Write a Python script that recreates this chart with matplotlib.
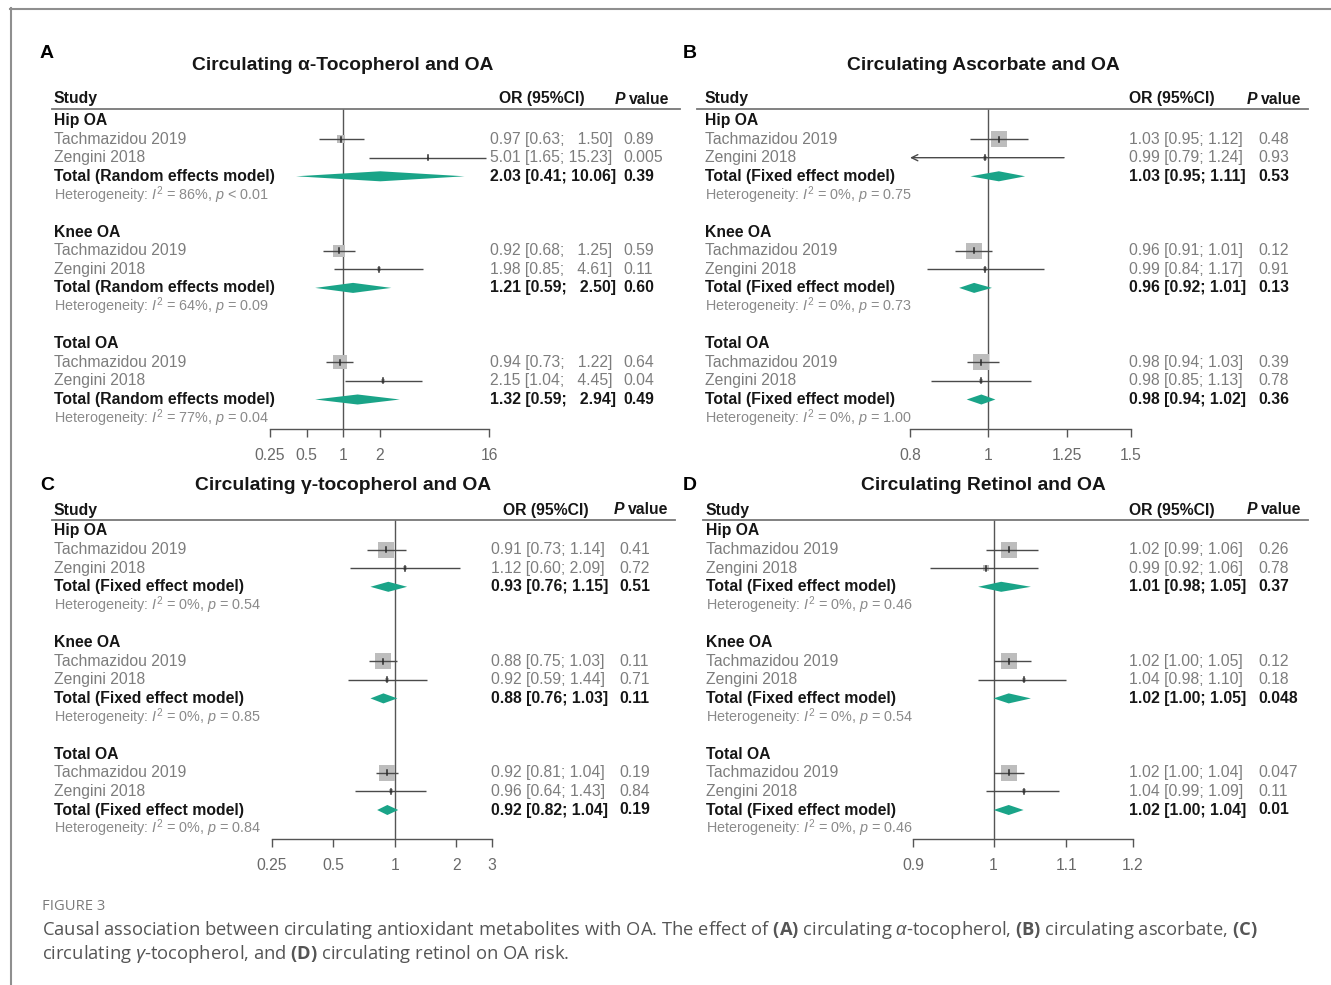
import numpy as np
import matplotlib
matplotlib.use("Agg")
import matplotlib.pyplot as plt
from matplotlib.lines import Line2D
from matplotlib.ticker import FixedLocator, FixedFormatter, NullLocator

plt.rcParams['font.family'] = ['Liberation Sans', 'DejaVu Sans']
plt.rcParams['mathtext.fontset'] = 'custom'
plt.rcParams['mathtext.rm'] = 'Liberation Sans'
plt.rcParams['mathtext.it'] = 'Liberation Sans:italic'
plt.rcParams['mathtext.bf'] = 'Open Sans:bold'

# ---------------- data ----------------
studies = ["Tachmazidou 2019", "Zengini 2018"]
groups = ["Hip OA", "Knee OA", "Total OA"]
# order inside each panel: hip T, hip Z, knee T, knee Z, total T, total Z

# A: circulating alpha-tocopherol
a_or = [0.97, 5.01, 0.92, 1.98, 0.94, 2.15]
a_lo = [0.63, 1.65, 0.68, 0.85, 0.73, 1.04]
a_hi = [1.50, 15.23, 1.25, 4.61, 1.22, 4.45]
a_p = ["0.89", "0.005", "0.59", "0.11", "0.64", "0.04"]
a_w = [25, 3, 56, 6, 77, 9]
a_tot_or = [2.03, 1.21, 1.32]
a_tot_lo = [0.41, 0.59, 0.59]
a_tot_hi = [10.06, 2.50, 2.94]
a_tot_p = ["0.39", "0.60", "0.49"]
a_i2 = [86, 64, 77]
a_het_p = ["< 0.01", "= 0.09", "= 0.04"]

# B: circulating ascorbate
b_or = [1.03, 0.99, 0.96, 0.99, 0.98, 0.98]
b_lo = [0.95, 0.79, 0.91, 0.84, 0.94, 0.85]
b_hi = [1.12, 1.24, 1.01, 1.17, 1.03, 1.13]
b_p = ["0.48", "0.93", "0.12", "0.91", "0.39", "0.78"]
b_w = [88, 7, 90, 6, 90, 6]
b_tot_or = [1.03, 0.96, 0.98]
b_tot_lo = [0.95, 0.92, 0.94]
b_tot_hi = [1.11, 1.01, 1.02]
b_tot_p = ["0.53", "0.13", "0.36"]
b_i2 = [0, 0, 0]
b_het_p = ["= 0.75", "= 0.73", "= 1.00"]

# C: circulating gamma-tocopherol
c_or = [0.91, 1.12, 0.88, 0.92, 0.92, 0.96]
c_lo = [0.73, 0.60, 0.75, 0.59, 0.81, 0.64]
c_hi = [1.14, 2.09, 1.03, 1.44, 1.04, 1.43]
c_p = ["0.41", "0.72", "0.11", "0.71", "0.19", "0.84"]
c_w = [90, 8, 88, 7, 88, 7]
c_tot_or = [0.93, 0.88, 0.92]
c_tot_lo = [0.76, 0.76, 0.82]
c_tot_hi = [1.15, 1.03, 1.04]
c_tot_p = ["0.51", "0.11", "0.19"]
c_i2 = [0, 0, 0]
c_het_p = ["= 0.54", "= 0.85", "= 0.84"]

# D: circulating retinol
d_or = [1.02, 0.99, 1.02, 1.04, 1.02, 1.04]
d_lo = [0.99, 0.92, 1.00, 0.98, 1.00, 0.99]
d_hi = [1.06, 1.06, 1.05, 1.10, 1.04, 1.09]
d_p = ["0.26", "0.78", "0.12", "0.18", "0.047", "0.11"]
d_w = [88, 10, 88, 9, 88, 9]
d_tot_or = [1.01, 1.02, 1.02]
d_tot_lo = [0.98, 1.00, 1.00]
d_tot_hi = [1.05, 1.05, 1.04]
d_tot_p = ["0.37", "0.048", "0.01"]
d_i2 = [0, 0, 0]
d_het_p = ["= 0.46", "= 0.54", "= 0.46"]

a_ticks = [0.25, 0.5, 1, 2, 16]
b_ticks = [0.8, 1, 1.25, 1.5]
c_ticks = [0.25, 0.5, 1, 2, 3]
d_ticks = [0.9, 1, 1.1, 1.2]

# ---------------- styling ----------------
W, H = 1331, 985
ROW = 18.6
FS = 11.3
FS_HET = 10.4
GRAY_TXT = '#7d7d7d'
HET_TXT = '#8a8a8a'
BLACK = '#161616'
AX_COL = '#555555'
SQ_COL = '#bdbdbd'
CI_COL = '#4a4a4a'
DIA_COL = '#1aa488'

fig = plt.figure(figsize=(W / 100, H / 100), dpi=100)
fig.patch.set_facecolor('white')


def ftxt(x, y, s, **kw):
    kw.setdefault('va', 'center')
    kw.setdefault('ha', 'left')
    kw.setdefault('fontsize', FS)
    return fig.text(x / W, 1 - y / H, s, **kw)


def fline(x0, y0, x1, y1, **kw):
    fig.add_artist(Line2D([x0 / W, x1 / W], [1 - y0 / H, 1 - y1 / H],
                          transform=fig.transFigure, **kw))


panels = [
    dict(letter='A', title='Circulating α-Tocopherol and OA', model='Random effects model',
         data=(a_or, a_lo, a_hi, a_p, a_w, a_tot_or, a_tot_lo, a_tot_hi, a_tot_p, a_i2, a_het_p),
         ticks=a_ticks, xlim=(0.25, 16), ax_x=(270, 489),
         letter_xy=(40, 54), title_xy=(343, 66), y_headtxt=99, y_head=108.5, y_row0=120.5, y_axis=428.5,
         x_study=54, x_orh=499, x_ph=615, x_or=490, x_p=623, line_x=(52, 680)),
    dict(letter='B', title='Circulating Ascorbate and OA', model='Fixed effect model',
         data=(b_or, b_lo, b_hi, b_p, b_w, b_tot_or, b_tot_lo, b_tot_hi, b_tot_p, b_i2, b_het_p),
         ticks=b_ticks, xlim=(0.8, 1.5), ax_x=(910, 1131),
         letter_xy=(683, 54), title_xy=(983, 66), y_headtxt=99, y_head=108.5, y_row0=120.5, y_axis=428.5,
         x_study=705, x_orh=1129, x_ph=1247, x_or=1129, x_p=1258, line_x=(697, 1308)),
    dict(letter='C', title='Circulating γ-tocopherol and OA', model='Fixed effect model',
         data=(c_or, c_lo, c_hi, c_p, c_w, c_tot_or, c_tot_lo, c_tot_hi, c_tot_p, c_i2, c_het_p),
         ticks=c_ticks, xlim=(0.25, 3), ax_x=(272, 492),
         letter_xy=(40, 486), title_xy=(343, 486), y_headtxt=510, y_head=520, y_row0=531, y_axis=839,
         x_study=54, x_orh=503, x_ph=614, x_or=491, x_p=619, line_x=(52, 675)),
    dict(letter='D', title='Circulating Retinol and OA', model='Fixed effect model',
         data=(d_or, d_lo, d_hi, d_p, d_w, d_tot_or, d_tot_lo, d_tot_hi, d_tot_p, d_i2, d_het_p),
         ticks=d_ticks, xlim=(0.9, 1.2), ax_x=(913, 1133),
         letter_xy=(683, 486), title_xy=(983, 486), y_headtxt=510, y_head=520, y_row0=531, y_axis=839,
         x_study=706, x_orh=1129, x_ph=1247, x_or=1129, x_p=1258, line_x=(703, 1308)),
]


def fmt_ci(o, l, h, width):
    hs = f"{h:.2f}"
    pad = "  " * (width - len(hs))
    return f"{o:.2f} [{l:.2f}; {pad}{hs}]"


for cfg in panels:
    (o_v, l_v, h_v, p_v, w_v, to_v, tl_v, th_v, tp_v, i2_v, hp_v) = cfg['data']
    x0, x1 = cfg['ax_x']
    top, bot = cfg['y_head'], cfg['y_axis']
    ax = fig.add_axes([x0 / W, 1 - bot / H, (x1 - x0) / W, (bot - top) / H])
    ax.set_xscale('log')
    ax.set_xlim(cfg['xlim'])
    ax.set_ylim((bot - cfg['y_row0']) / ROW, (top - cfg['y_row0']) / ROW)
    ax.patch.set_visible(False)
    for s in ['top', 'left', 'right']:
        ax.spines[s].set_visible(False)
    ax.spines['bottom'].set_color(AX_COL)
    ax.spines['bottom'].set_linewidth(1.0)
    ax.xaxis.set_major_locator(FixedLocator(cfg['ticks']))
    ax.xaxis.set_major_formatter(FixedFormatter([f"{t:g}" for t in cfg['ticks']]))
    ax.xaxis.set_minor_locator(NullLocator())
    ax.tick_params(axis='x', direction='out', length=6, width=1.0, color=AX_COL,
                   labelcolor='#6a6a6a', labelsize=FS, pad=8)
    ax.set_yticks([])
    ax.axvline(1, color=AX_COL, lw=1.0, zorder=1)

    # panel heading
    lx, ly = cfg['letter_xy']
    ftxt(lx, ly, cfg['letter'], fontsize=14, fontweight='bold', color='black')
    tx, ty = cfg['title_xy']
    ftxt(tx, ty, cfg['title'], ha='center', fontsize=13.9, fontweight='bold', color=BLACK)
    yh = cfg['y_headtxt']
    ftxt(cfg['x_study'], yh, 'Study', fontweight='bold', color=BLACK)
    ftxt(cfg['x_orh'], yh, 'OR (95%CI)', fontweight='bold', color=BLACK)
    ftxt(cfg['x_ph'], yh, 'P', fontweight='bold', fontstyle='italic', color=BLACK)
    ftxt(cfg['x_ph'] + 13.5, yh, 'value', fontweight='bold', color=BLACK)
    fline(cfg['line_x'][0], top, cfg['line_x'][1], top, color='#777777', lw=1.3)

    width = max(len(f"{v:.2f}") for v in list(h_v) + list(th_v))
    xmin, xmax = cfg['xlim']

    def ry(r):
        return cfg['y_row0'] + r * ROW

    for g in range(3):
        base = 6 * g
        ftxt(cfg['x_study'], ry(base), groups[g], fontweight='bold', color=BLACK)
        for k in range(2):
            i = 2 * g + k
            r = base + 1 + k
            ftxt(cfg['x_study'], ry(r), studies[k], color=GRAY_TXT)
            ftxt(cfg['x_or'], ry(r), fmt_ci(o_v[i], l_v[i], h_v[i], width), color=GRAY_TXT)
            ftxt(cfg['x_p'], ry(r), p_v[i], color=GRAY_TXT)
            side_pt = 16.5 * np.sqrt(w_v[i] / 100.0) * 0.72
            ax.scatter([o_v[i]], [r], marker='s', s=side_pt ** 2, color=SQ_COL,
                       linewidths=0, zorder=2, clip_on=False)
            lo_c, hi_c = max(l_v[i], xmin), min(h_v[i], xmax)
            if l_v[i] < xmin:
                ax.annotate('', xy=(lo_c, r), xytext=(hi_c, r),
                            arrowprops=dict(arrowstyle='->,head_length=0.45,head_width=0.22',
                                            color=CI_COL, lw=1.0, shrinkA=0, shrinkB=0),
                            zorder=3)
            else:
                ax.plot([lo_c, hi_c], [r, r], color=CI_COL, lw=1.0, zorder=3,
                        solid_capstyle='butt', clip_on=False)
            ax.plot([o_v[i], o_v[i]], [r - 0.13, r + 0.13], color='#2a2a2a', lw=1.1, zorder=4,
                    clip_on=False)
        rt = base + 3
        ftxt(cfg['x_study'], ry(rt), f"Total ({cfg['model']})", fontweight='bold', color=BLACK)
        ftxt(cfg['x_or'], ry(rt), fmt_ci(to_v[g], tl_v[g], th_v[g], width),
             fontweight='bold', color=BLACK)
        ftxt(cfg['x_p'], ry(rt), tp_v[g], fontweight='bold', color=BLACK)
        ax.fill([tl_v[g], to_v[g], th_v[g], to_v[g]], [rt, rt - 0.27, rt, rt + 0.27],
                color=DIA_COL, lw=0, zorder=3, clip_on=False)
        rh = base + 4
        ftxt(cfg['x_study'], ry(rh),
             f"Heterogeneity: $I^2$ = {i2_v[g]}%, $p$ {hp_v[g]}",
             fontsize=FS_HET, color=HET_TXT)

# outer frame
fline(10, 8.5, 1331, 8.5, color='#8f8f8f', lw=1.5)
fline(10.5, 8, 10.5, 985, color='#8f8f8f', lw=1.5)

# caption
CAP = ['Open Sans', 'DejaVu Sans']
ftxt(42, 907, 'FIGURE 3', family=CAP, fontsize=10.6, color='#7a7a7a')
ftxt(42, 930,
     r"Causal association between circulating antioxidant metabolites with OA. The effect of "
     r"$\mathbf{(A)}$ circulating $\alpha$-tocopherol, $\mathbf{(B)}$ circulating ascorbate, $\mathbf{(C)}$",
     family=CAP, fontsize=13.2, color='#555555')
ftxt(42, 954,
     r"circulating $\gamma$-tocopherol, and $\mathbf{(D)}$ circulating retinol on OA risk.",
     family=CAP, fontsize=13.2, color='#555555')

fig.savefig('out.png', dpi=100, facecolor='white')
